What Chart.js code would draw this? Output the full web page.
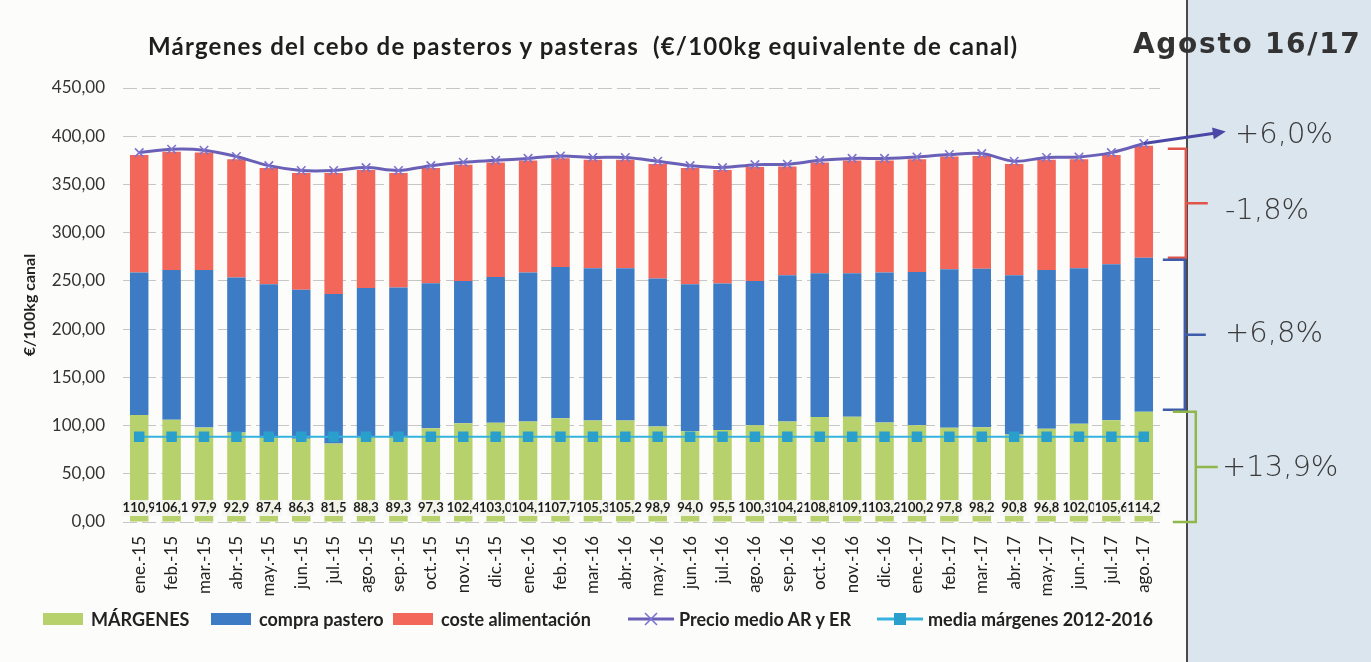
<!DOCTYPE html>
<html lang="es">
<head>
<meta charset="utf-8">
<title>Márgenes del cebo de pasteros y pasteras</title>
<script src="https://cdn.jsdelivr.net/npm/chart.js@4.4.1/dist/chart.umd.min.js"></script>
<style>
  html, body { margin: 0; padding: 0; background: #f3f4f5; }
  #wrap { position: relative; width: 1371px; height: 662px; overflow: hidden; background: #fcfcfb; }
  #side { position: absolute; left: 1186px; top: 0; width: 185px; height: 662px; background: #dbe5ed; border-left: 2px solid #4a4a4a; }
  #chart { position: absolute; left: 0; top: 0; }
  .title { position: absolute; left: 148px; top: 31px; font: bold 24px Lato, sans-serif; letter-spacing: 1.2px; color: #1e1e1e; white-space: nowrap; }
  .fecha { position: absolute; left: 1133px; top: 27px; font: bold 28px "DejaVu Sans", sans-serif; letter-spacing: 1.7px; color: #333; white-space: nowrap; }
  .pct { position: absolute; font: 200 29px "DejaVu Sans", sans-serif; color: #3a3a3a; white-space: nowrap; }
  .ley { position: absolute; top: 608px; height: 22px; display: flex; align-items: center; font: bold 18px Lato, sans-serif; color: #222; white-space: nowrap; }
  .ley canvas { margin-right: 5px; }
</style>
</head>
<body>
<div id="wrap">
  <div id="side"></div>
  <canvas id="chart" width="1371" height="662"></canvas>
  <div class="title">Márgenes del cebo de pasteros y pasteras&nbsp; (€/100kg equivalente de canal)</div>
  <div class="fecha">Agosto 16/17</div>
  <div class="pct" style="left:1235px; top:116px;">+6,0%</div>
  <div class="pct" style="left:1225px; top:192px;">-1,8%</div>
  <div class="pct" style="left:1225px; top:315px;">+6,8%</div>
  <div class="pct" style="left:1222px; top:449px;">+13,9%</div>
  <div id="leyenda"></div>
</div>
<script>
// ===== DATOS =====
const meses = [
  "ene.-15", "feb.-15", "mar.-15", "abr.-15", "may.-15", "jun.-15", "jul.-15", "ago.-15",
  "sep.-15", "oct.-15", "nov.-15", "dic.-15", "ene.-16", "feb.-16", "mar.-16", "abr.-16",
  "may.-16", "jun.-16", "jul.-16", "ago.-16", "sep.-16", "oct.-16", "nov.-16", "dic.-16",
  "ene.-17", "feb.-17", "mar.-17", "abr.-17", "may.-17", "jun.-17", "jul.-17", "ago.-17"
];
const margenes = [
  110.9, 106.1, 97.9, 92.9, 87.4, 86.3, 81.5, 88.3, 89.3, 97.3, 102.4, 103.0, 104.1, 107.7, 105.3, 105.2,
  98.9, 94.0, 95.5, 100.3, 104.2, 108.8, 109.1, 103.2, 100.2, 97.8, 98.2, 90.8, 96.8, 102.0, 105.6, 114.2
];
const compraPastero = [
  147.8, 155.2, 163.4, 160.6, 159.2, 154.4, 154.8, 154.2, 153.9, 150.3, 147.6, 151.1, 154.5, 156.7, 157.8, 157.9,
  153.6, 152.6, 151.8, 149.7, 151.7, 149.1, 148.8, 155.4, 159.1, 164.2, 164.5, 165.1, 164.5, 161.1, 161.6, 159.8
];
const costeAlimentacion = [
  121.9, 122.7, 121.7, 122.7, 120.4, 121.1, 125.5, 122.5, 118.6, 119.4, 120.3, 118.6, 116.1, 112.8, 112.4, 112.4,
  118.8, 120.4, 117.7, 118.0, 112.7, 114.8, 116.8, 116.1, 116.9, 116.9, 116.9, 115.4, 114.2, 113.1, 113.4, 116.0
];
const precioMedio = [
  383.0, 386.5, 385.5, 379.0, 369.5, 364.5, 364.5, 367.5, 364.5, 369.5, 373.0, 375.0, 377.0, 379.5, 378.0, 378.0,
  374.0, 369.5, 367.5, 370.5, 371.0, 375.0, 377.0, 377.0, 378.5, 381.0, 382.0, 374.0, 378.0, 378.5, 383.0, 392.5
];
const mediaMargenes = [
  88.5, 88.5, 88.5, 88.5, 88.5, 88.5, 88.5, 88.5, 88.5, 88.5, 88.5, 88.5, 88.5, 88.5, 88.5, 88.5,
  88.5, 88.5, 88.5, 88.5, 88.5, 88.5, 88.5, 88.5, 88.5, 88.5, 88.5, 88.5, 88.5, 88.5, 88.5, 88.5
];
const ejeY = { min: 0, max: 450, paso: 50 };

const VERDE = "#b7d26c", AZUL = "#3d7cc4", ROJO = "#f2675a", MORADO = "#6a60b8", CELESTE = "#35b2de";

function fmt(v, d) { return v.toFixed(d).replace(".", ","); }

// iconos de leyenda
function iconoLeyenda(tipo, color) {
  const c = document.createElement("canvas");
  c.width = 46; c.height = 16;
  const g = c.getContext("2d");
  if (tipo === "bar") {
    g.fillStyle = color;
    g.fillRect(3, 2, 40, 12);
  } else {
    g.strokeStyle = color; g.lineWidth = 3;
    g.beginPath(); g.moveTo(0, 8); g.lineTo(46, 8); g.stroke();
    if (tipo === "cruz") {
      g.strokeStyle = "#7d74cc"; g.lineWidth = 1.6;
      g.beginPath(); g.moveTo(17, 2); g.lineTo(29, 14); g.moveTo(29, 2); g.lineTo(17, 14); g.stroke();
    } else {
      g.fillStyle = "#2a9fcc";
      g.fillRect(17, 2, 12, 12);
    }
  }
  return c;
}
const iconos = [iconoLeyenda("bar", VERDE), iconoLeyenda("bar", AZUL), iconoLeyenda("bar", ROJO),
  iconoLeyenda("cruz", MORADO), iconoLeyenda("cuadro", CELESTE)];
const posLeyenda = [40, 208, 390, 628, 877];

// etiquetas de márgenes y llaves de variación
const extras = {
  id: "extras",
  afterDatasetsDraw(chart) {
    const { ctx, scales: { x, y } } = chart;
    const base = y.getPixelForValue(0);
    ctx.save();
    ctx.font = "bold 13px Lato, sans-serif";
    ctx.textAlign = "center";
    ctx.textBaseline = "middle";
    margenes.forEach((v, i) => {
      const cx = x.getPixelForValue(i);
      const t = fmt(v, 1);
      const w = ctx.measureText(t).width + 2;
      ctx.fillStyle = "rgba(246,246,244,0.92)";
      ctx.fillRect(cx - w / 2, base - 22, w, 16);
      ctx.fillStyle = "#1c1c1c";
      ctx.fillText(t, cx, base - 14);
    });

    const n = meses.length - 1;
    const xl = x.getPixelForValue(n);
    const yVerde = y.getPixelForValue(margenes[n]);
    const yAzul = y.getPixelForValue(margenes[n] + compraPastero[n]);
    const yRojo = y.getPixelForValue(margenes[n] + compraPastero[n] + costeAlimentacion[n]);

    function llave(xv, y1, y2, gancho, punta, color) {
      ctx.strokeStyle = color;
      ctx.lineWidth = 2.5;
      ctx.beginPath();
      ctx.moveTo(gancho, y1); ctx.lineTo(xv, y1); ctx.lineTo(xv, y2); ctx.lineTo(gancho, y2);
      ctx.moveTo(xv, (y1 + y2) / 2); ctx.lineTo(punta, (y1 + y2) / 2);
      ctx.stroke();
    }
    llave(xl + 42, yRojo + 3, yAzul, xl + 24, xl + 64, "#e0554a");
    llave(xl + 41, yAzul + 2, yVerde - 2, xl + 19, xl + 62, "#3f5cab");
    llave(xl + 52, yVerde, base, xl + 29, xl + 74, "#8fb74c");

    // flecha del precio
    const yp = y.getPixelForValue(precioMedio[n]);
    const ax = xl + 82, ay = yp - 12;
    ctx.strokeStyle = "#4b47a6"; ctx.fillStyle = "#4b47a6"; ctx.lineWidth = 3;
    ctx.beginPath(); ctx.moveTo(xl, yp); ctx.lineTo(ax - 8, ay + 1.3); ctx.stroke();
    const ang = Math.atan2(ay - yp, ax - xl);
    ctx.beginPath();
    ctx.moveTo(ax, ay);
    ctx.lineTo(ax - 13 * Math.cos(ang) + 6 * Math.sin(ang), ay - 13 * Math.sin(ang) - 6 * Math.cos(ang));
    ctx.lineTo(ax - 13 * Math.cos(ang) - 6 * Math.sin(ang), ay - 13 * Math.sin(ang) + 6 * Math.cos(ang));
    ctx.closePath(); ctx.fill();
    ctx.restore();
  }
};

const chart = new Chart(document.getElementById("chart"), {
  type: "bar",
  data: {
    labels: meses,
    datasets: [
      { label: "MÁRGENES", data: margenes, backgroundColor: VERDE, stack: "s", order: 3, barPercentage: 0.57, categoryPercentage: 1 },
      { label: "compra pastero", data: compraPastero, backgroundColor: AZUL, stack: "s", order: 3, barPercentage: 0.57, categoryPercentage: 1 },
      { label: "coste alimentación", data: costeAlimentacion, backgroundColor: ROJO, stack: "s", order: 3, barPercentage: 0.57, categoryPercentage: 1 },
      {
        type: "line", label: "Precio medio AR y ER", data: precioMedio, stack: "p", order: 1,
        borderColor: MORADO, borderWidth: 3, tension: 0.35,
        pointStyle: "crossRot", pointRadius: 6, pointBorderColor: "#7d74cc", pointBorderWidth: 1.6
      },
      {
        type: "line", label: "media márgenes 2012-2016", data: mediaMargenes, stack: "m", order: 2,
        borderColor: CELESTE, borderWidth: 2, pointStyle: "rect", pointRadius: 6,
        pointBackgroundColor: "#2a9fcc", pointBorderColor: "#2a9fcc"
      }
    ]
  },
  options: {
    responsive: false,
    animation: false,
    layout: { padding: { left: 20, right: 211, top: 88, bottom: 64 } },
    plugins: {
      tooltip: { enabled: false },
      legend: { display: false }
    },
    scales: {
      x: {
        stacked: true,
        grid: { display: false },
        border: { display: false },
        ticks: { minRotation: 90, maxRotation: 90, color: "#222", padding: 6, font: { family: "Lato, sans-serif", size: 17 } },
        afterFit(s) { s.height = 76; }
      },
      y: {
        stacked: true,
        min: ejeY.min,
        max: ejeY.max,
        grid: { color: "#c6c6c6", drawTicks: false },
        border: { display: false, dash: [14, 5] },
        ticks: { stepSize: ejeY.paso, padding: 18, color: "#333", font: { family: "Lato, sans-serif", size: 17 }, callback: v => fmt(v, 2) },
        title: { display: true, text: "€/100kg canal", color: "#222", padding: 0, font: { family: "Lato, sans-serif", size: 16, weight: "bold" } },
        afterFit(s) { s.width = 103; }
      }
    }
  },
  plugins: [extras]
});

// leyenda (en HTML, con las etiquetas de los datasets)
const cont = document.getElementById("leyenda");
chart.data.datasets.forEach((ds, i) => {
  const item = document.createElement("div");
  item.className = "ley";
  item.style.left = posLeyenda[i] + "px";
  item.appendChild(iconos[i]);
  const span = document.createElement("span");
  span.textContent = ds.label;
  item.appendChild(span);
  cont.appendChild(item);
});
</script>
</body>
</html>
